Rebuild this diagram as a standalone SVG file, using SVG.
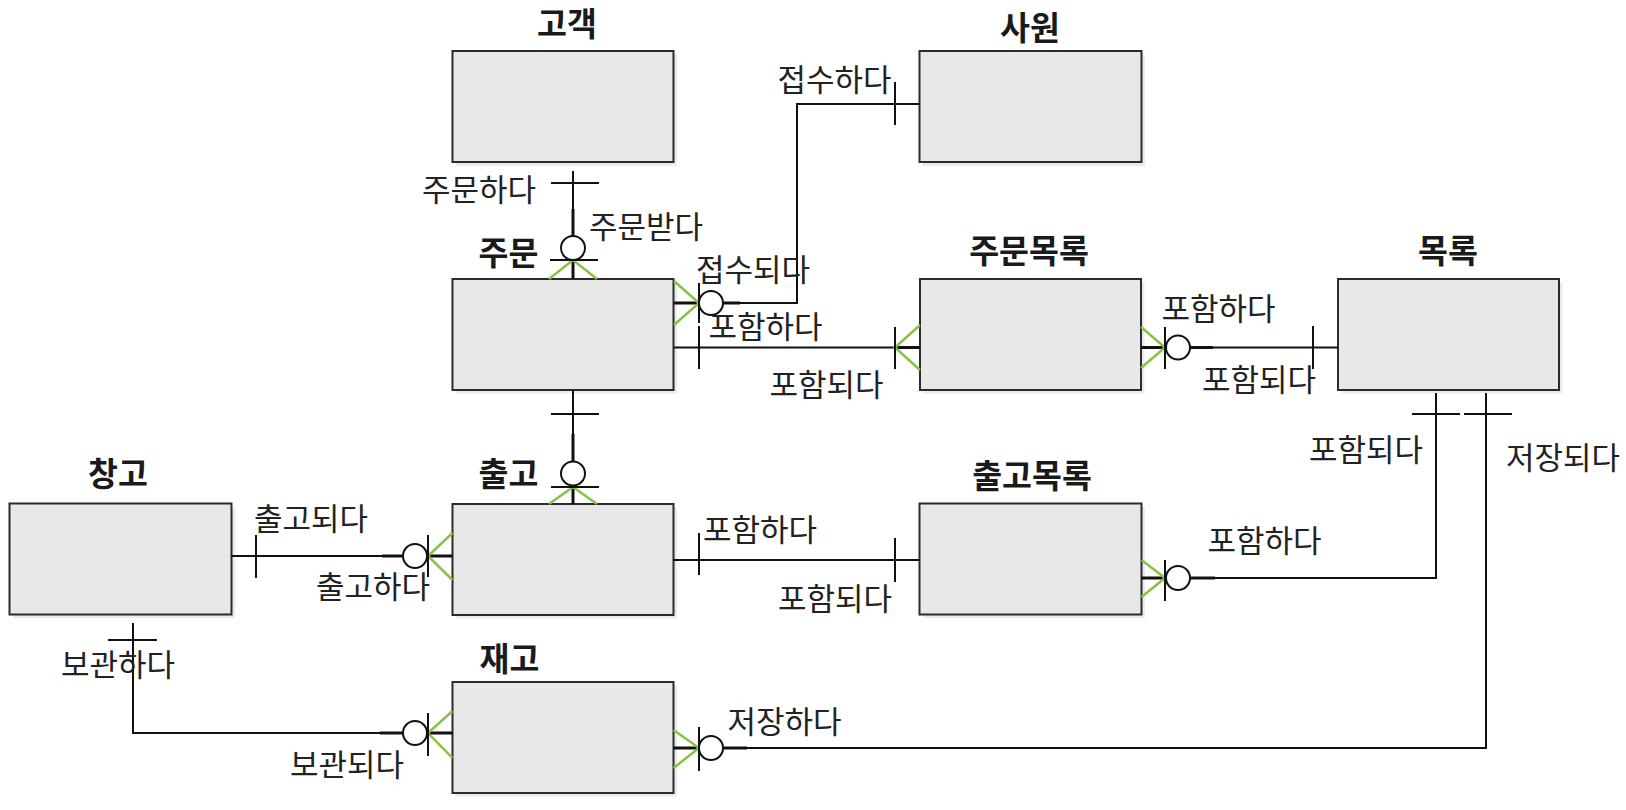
<svg xmlns="http://www.w3.org/2000/svg" width="1626" height="810" viewBox="0 0 1626 810">
<style>
.box{fill:#e8e8e8;stroke:#2b2b2b;stroke-width:2}
.shadow{fill:#000;opacity:0.08}
.ln{fill:none;stroke:#111;stroke-width:2}
.thk{fill:none;stroke:#111;stroke-width:3}
.crow{fill:none;stroke:#86c246;stroke-width:2.5}
.circ{fill:#fff;stroke:#111;stroke-width:2}
.title{font-family:"Noto Sans CJK KR","Noto Sans",sans-serif;font-size:32.5px;font-weight:bold;fill:#1a1a1a;text-anchor:middle}
.lbl{font-family:"Noto Sans CJK KR","Noto Sans",sans-serif;font-size:31px;fill:#222;text-anchor:middle}
</style>
<rect width="1626" height="810" fill="#fff"/>
<g id="nodes">
<g id="n-customer"><rect class="shadow" x="456" y="55" width="221" height="111"/><rect class="box" x="452.5" y="51" width="221" height="111"/><text class="title" x="567" y="36">고객</text></g>
<g id="n-employee"><rect class="shadow" x="923" y="55" width="222" height="111"/><rect class="box" x="919.5" y="51" width="222" height="111"/><text class="title" x="1030" y="40">사원</text></g>
<g id="n-order"><rect class="shadow" x="456" y="282.5" width="221" height="111"/><rect class="box" x="452.5" y="279" width="221" height="111"/><text class="title" x="508.5" y="265">주문</text></g>
<g id="n-orderitem"><rect class="shadow" x="923.5" y="282.5" width="221" height="111"/><rect class="box" x="920" y="279" width="221" height="111"/><text class="title" x="1029" y="263">주문목록</text></g>
<g id="n-catalog"><rect class="shadow" x="1341.5" y="282.5" width="221" height="111"/><rect class="box" x="1338" y="279" width="221" height="111"/><text class="title" x="1448" y="263">목록</text></g>
<g id="n-warehouse"><rect class="shadow" x="13" y="507" width="222" height="111"/><rect class="box" x="9.5" y="503.5" width="222" height="111"/><text class="title" x="118" y="486">창고</text></g>
<g id="n-release"><rect class="shadow" x="456" y="507.5" width="221" height="111"/><rect class="box" x="452.5" y="504" width="221" height="111"/><text class="title" x="508.5" y="486">출고</text></g>
<g id="n-releaseitem"><rect class="shadow" x="923" y="507" width="222" height="111"/><rect class="box" x="919.5" y="503.5" width="222" height="111"/><text class="title" x="1032" y="488">출고목록</text></g>
<g id="n-stock"><rect class="shadow" x="456" y="685.5" width="221" height="111"/><rect class="box" x="452.5" y="682" width="221" height="111"/><text class="title" x="509.5" y="671">재고</text></g>
</g>
<g id="connectors">
<g id="c-customer-order">
<path class="ln" d="M573,171 V279"/><path class="thk" d="M573,209 V279"/>
<path class="ln" d="M551,183 H599"/>
<path class="crow" d="M549,279 L573,260 L597,279"/>
<path class="ln" d="M550,260 H598"/>
<circle class="circ" cx="573" cy="248" r="12"/>
<text class="lbl" x="479" y="201">주문하다</text>
<text class="lbl" x="646" y="238">주문받다</text>
</g>
<g id="c-employee-order">
<path class="ln" d="M919.5,104 H797 V303 H674"/><path class="thk" d="M674,303 H740"/>
<path class="ln" d="M895,82 V125"/>
<path class="crow" d="M674,281 L699,303 L674,325"/>
<path class="ln" d="M699,283 V323"/>
<circle class="circ" cx="711" cy="303" r="12"/>
<text class="lbl" x="834.5" y="91">접수하다</text>
<text class="lbl" x="753" y="281">접수되다</text>
</g>
<g id="c-order-orderitem">
<path class="ln" d="M674,347.5 H920"/><path class="thk" d="M895,347.5 H920"/>
<path class="ln" d="M699,326 V369"/>
<path class="crow" d="M920,325 L895,347.5 L920,370"/>
<path class="ln" d="M895,327 V369"/>
<text class="lbl" x="765.5" y="338">포함하다</text>
<text class="lbl" x="826.5" y="396">포함되다</text>
</g>
<g id="c-orderitem-catalog">
<path class="ln" d="M1141,347.5 H1338"/><path class="thk" d="M1141,347.5 H1213"/>
<path class="crow" d="M1141,327 L1165,347.5 L1141,368"/>
<path class="ln" d="M1165,327 V369"/>
<circle class="circ" cx="1178" cy="347.5" r="12"/>
<path class="ln" d="M1313,326 V369"/>
<text class="lbl" x="1218.5" y="320">포함하다</text>
<text class="lbl" x="1259" y="391">포함되다</text>
</g>
<g id="c-order-release">
<path class="ln" d="M573,390 V504"/><path class="thk" d="M573,434 V504"/>
<path class="ln" d="M551,414 H599"/>
<path class="crow" d="M549,504 L573,487 L597,504"/>
<path class="ln" d="M551,487 H599"/>
<circle class="circ" cx="573" cy="473.5" r="12"/>
</g>
<g id="c-warehouse-release">
<path class="ln" d="M231.5,556 H452.5"/><path class="thk" d="M382,556 H452.5"/>
<path class="ln" d="M256,535 V578"/>
<path class="crow" d="M452.5,533 L428,556 L452.5,580"/>
<path class="ln" d="M428,535 V577"/>
<circle class="circ" cx="415" cy="556" r="12"/>
<text class="lbl" x="311" y="530">출고되다</text>
<text class="lbl" x="373" y="598">출고하다</text>
</g>
<g id="c-release-releaseitem">
<path class="ln" d="M673.5,560 H919.5"/>
<path class="ln" d="M699,533 V575"/>
<path class="ln" d="M895,538 V582"/>
<text class="lbl" x="760" y="541">포함하다</text>
<text class="lbl" x="835" y="610">포함되다</text>
</g>
<g id="c-warehouse-stock">
<path class="ln" d="M133,623 V733 H452.5"/><path class="thk" d="M380,733 H452.5"/>
<path class="ln" d="M108,640 H157"/>
<path class="crow" d="M452.5,711 L428,733 L452.5,758"/>
<path class="ln" d="M428,713 V756"/>
<circle class="circ" cx="415" cy="733" r="12"/>
<text class="lbl" x="118" y="676">보관하다</text>
<text class="lbl" x="347" y="776">보관되다</text>
</g>
<g id="c-releaseitem-catalog">
<path class="ln" d="M1436,393 V578 H1141.5"/><path class="thk" d="M1141.5,578 H1215"/>
<path class="ln" d="M1412,414 H1460"/>
<path class="crow" d="M1141.5,560 L1165,578 L1141.5,597"/>
<path class="ln" d="M1165,560 V601"/>
<circle class="circ" cx="1178" cy="578" r="12"/>
<text class="lbl" x="1366" y="461">포함되다</text>
<text class="lbl" x="1264.5" y="552">포함하다</text>
</g>
<g id="c-stock-catalog">
<path class="ln" d="M1486,393 V748 H673.5"/><path class="thk" d="M673.5,748 H747"/>
<path class="ln" d="M1464,414 H1512"/>
<path class="crow" d="M673.5,730 L699,748 L673.5,768"/>
<path class="ln" d="M699,727 V771"/>
<circle class="circ" cx="711" cy="748" r="12"/>
<text class="lbl" x="1563" y="469">저장되다</text>
<text class="lbl" x="784.5" y="733">저장하다</text>
</g>
</g>
</svg>
